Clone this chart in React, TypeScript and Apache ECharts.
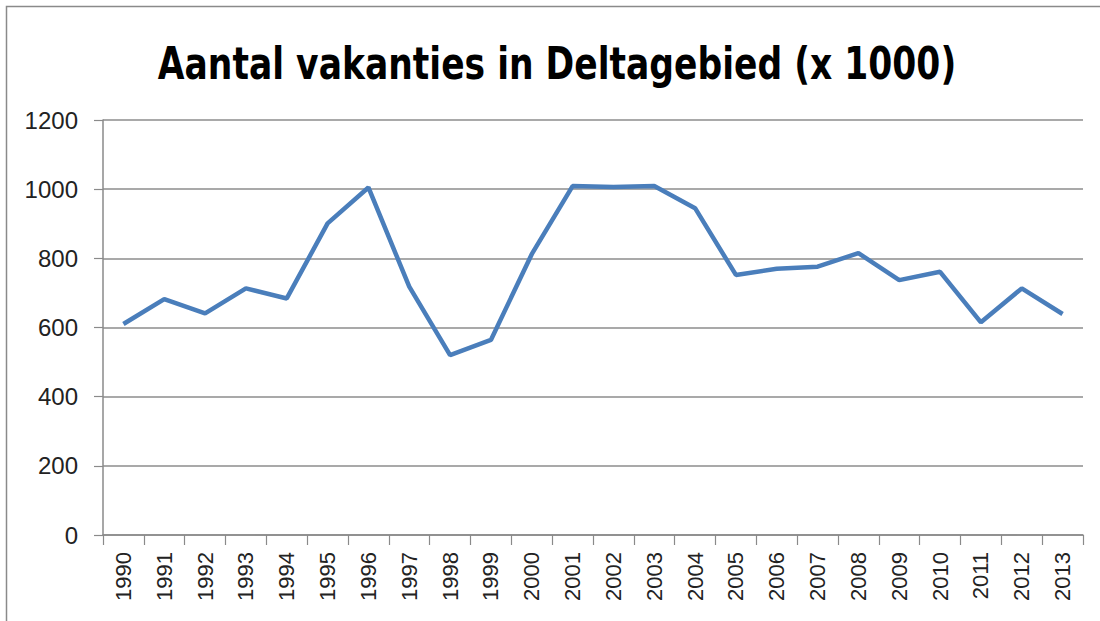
import React, { useEffect, useRef } from "react";
import * as echarts from "echarts";

const years = ["1990","1991","1992","1993","1994","1995","1996","1997","1998","1999","2000","2001","2002","2003","2004","2005","2006","2007","2008","2009","2010","2011","2012","2013"];
const vakanties = [610, 682, 641, 713, 684, 901, 1005, 718, 520, 564, 812, 1009, 1006, 1009, 945, 752, 770, 776, 815, 737, 761, 615, 713, 639];
const titleText = "Aantal vakanties in Deltagebied (x 1000)";

export default function App() {
  const ref = useRef<HTMLDivElement>(null);
  useEffect(() => {
    const chart = echarts.init(ref.current!, null, { renderer: "svg" });
    chart.setOption({
      animation: false,
      backgroundColor: "#ffffff",
      graphic: [
        {
          type: "rect",
          shape: { x: 6.5, y: 6.5, width: 1110, height: 630 },
          style: { fill: "none", stroke: "#8a8a8a", lineWidth: 1.5 },
          silent: true,
        },
        {
          type: "text",
          x: 557,
          y: 63,
          scaleX: 0.785,
          style: {
            text: titleText,
            textAlign: "center",
            textVerticalAlign: "middle",
            fontFamily: "'DejaVu Sans', sans-serif",
            fontWeight: "bold",
            fontSize: 44,
            fill: "#000",
          },
          silent: true,
        },
      ],
      grid: { left: 103, right: 17, top: 120, bottom: 86, containLabel: false },
      xAxis: {
        type: "category",
        data: years,
        boundaryGap: true,
        axisLine: { show: true, lineStyle: { color: "#8a8a8a", width: 1.5 } },
        axisTick: { show: true, length: 10, lineStyle: { color: "#8a8a8a", width: 1.2 } },
        axisLabel: {
          interval: 0,
          rotate: 90,
          margin: 17,
          fontFamily: "'Liberation Sans', Arial, sans-serif",
          fontSize: 22,
          color: "#222",
        },
        splitLine: { show: false },
      },
      yAxis: {
        type: "value",
        min: 0,
        max: 1200,
        interval: 200,
        axisLine: { show: true, lineStyle: { color: "#8a8a8a", width: 1.5 } },
        axisTick: { show: true, length: 9, lineStyle: { color: "#8a8a8a", width: 1.2 } },
        axisLabel: {
          margin: 25,
          formatter: (v: number) => String(v),
          fontFamily: "'Liberation Sans', Arial, sans-serif",
          fontSize: 24,
          color: "#222",
        },
        splitLine: { show: true, lineStyle: { color: "#8c8c8c", width: 1.5 } },
      },
      series: [
        {
          type: "line",
          data: vakanties,
          symbol: "none",
          lineStyle: { color: "#4a7ebb", width: 4.5 },
          itemStyle: { color: "#4a7ebb" },
        },
      ],
    });
    return () => chart.dispose();
  }, []);
  return (
    <div style={{ position: "absolute", left: 0, top: 0, width: 1100, height: 621, background: "#fff" }}>
      <div ref={ref} style={{ width: 1100, height: 621 }} />
    </div>
  );
}
